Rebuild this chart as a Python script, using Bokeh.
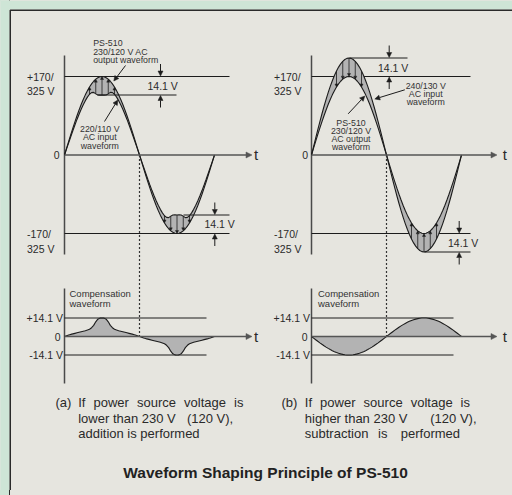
import numpy as np
from bokeh.plotting import figure
from bokeh.models import Range1d, Arrow, NormalHead, ColumnDataSource, GlobalInlineStyleSheet
from bokeh.core.properties import value
from bokeh.embed import file_html
from bokeh.resources import INLINE

# ---------------- data ----------------
NOMINAL_PEAK = 170.0            # +170/325 V output peak level
COMP_PEAK = 14.1                # compensation amplitude (V)
top_level_labels = ["+170/", "325 V"]
bot_level_labels = ["-170/", "325 V"]
comp_tick_labels = ["+14.1 V", "0", "-14.1 V"]
gap_label = "14.1 V"

phase = list(range(0, 365, 5))  # degrees 0..360
# compensation waveform (a), positive half, volts at 0,5,...,180 deg
comp_a_half = [0.0, 0.55, 1.1, 1.6, 2.0, 2.4, 2.8, 3.2, 3.6, 4.0, 4.4, 4.9, 5.5, 6.7, 8.5, 11.2, 13.2, 14.0,
               14.1, 14.0, 13.2, 11.2, 8.5, 6.7, 5.5, 4.9, 4.4, 4.0, 3.6, 3.2, 2.8, 2.4, 2.0, 1.6, 1.1, 0.55, 0.0]
comp_a = comp_a_half + [-v for v in comp_a_half[1:]]
hatch_phase_pos = [60, 75, 90, 105, 120]
hatch_phase_neg = [240, 255, 270, 285, 300]

# ---------------- layout / style ----------------
W, H = 512, 490
X0_A, X0_B = 64, 311            # phase 0 position of panels (a), (b)
HALF_PX = 75                    # pixels per half period
TOP_ZERO, TOP_PEAK_PX = 154.5, 78.5
COMP_ZERO, COMP_PEAK_PX = 336.0, 18.5
EXAG = (COMP_PEAK_PX / COMP_PEAK) / (TOP_PEAK_PX / NOMINAL_PEAK)   # drawing exaggeration of the gap

PANEL = "#e6e5df"
GREEN = "#cee5d6"
INK = "#1c1c1c"
TEXT = "#2a2a2a"
AXIS = "#4a4a4a"
FILL = "#b3b3b3"
FRAME = "#2a2a2a"
FONT = "Liberation Sans"


def deg_at(px, x0):
    return (px - x0) * 180.0 / HALF_PX


def xr(x0):
    return Range1d(start=deg_at(0, x0), end=deg_at(W, x0))


def yr(zero_px, peak_px, peak_v):
    ppu = peak_px / peak_v
    return Range1d(start=(zero_px - H) / ppu, end=zero_px / ppu)


p = figure(width=W, height=H, x_range=Range1d(0, W), y_range=Range1d(H, 0),
           output_backend="svg", toolbar_location=None, min_border=0,
           x_axis_type=None, y_axis_type=None, outline_line_color=None,
           background_fill_color=PANEL, border_fill_color=PANEL)
p.grid.visible = False
p.extra_x_ranges = {"pa": xr(X0_A), "pb": xr(X0_B)}
p.extra_y_ranges = {"vt": yr(TOP_ZERO, TOP_PEAK_PX, NOMINAL_PEAK),
                    "vc": yr(COMP_ZERO, COMP_PEAK_PX, COMP_PEAK)}
p.stylesheets = [GlobalInlineStyleSheet(css=(
    "html{background-color:%s;background-image:linear-gradient(to right,%s 9px,%s 9px,%s 10.5px,transparent 10.5px);"
    "background-repeat:no-repeat;}" % (PANEL, GREEN, FRAME, FRAME)))]

# outer frame
p.quad(left=0, right=9, bottom=H, top=0, fill_color=GREEN, line_color=None)
p.quad(left=0, right=W, bottom=9, top=0, fill_color=GREEN, line_color=None)
p.line([9.75, 9.75, W], [H, 9.75, 9.75], line_color=FRAME, line_width=1.5)


def txt(x, y, s, size, align="left", bold=False, color=TEXT):
    p.text(x=[x], y=[y], text=[s], text_font=value(FONT), text_font_size=value(f"{size}px"),
           text_align=align, text_baseline="middle", text_color=color,
           text_font_style="bold" if bold else "normal")


def arrow(x0, y0, x1, y1, size=5, lw=1.0, color=INK, xn="default", yn="default"):
    p.add_layout(Arrow(end=NormalHead(size=size, fill_color=color, line_color=color, line_width=0.5),
                       x_start=x0, y_start=y0, x_end=x1, y_end=y1, line_color=color, line_width=lw,
                       x_range_name=xn, y_range_name=yn))


ph = np.radians(np.array(phase, dtype=float))
base = NOMINAL_PEAK * np.sin(ph)
comp_a_arr = np.array(comp_a)
comp_b_arr = -COMP_PEAK * np.sin(ph)

# (a): output = clean sine (outer), input = output - compensation (inner)
outer_a = base
inner_a = base - comp_a_arr * EXAG
# (b): output = clean sine (inner), input = output - compensation (outer)
inner_b = base
outer_b = base - comp_b_arr * EXAG

panels = [
    dict(xn="pa", x0=X0_A, outer=outer_a, inner=inner_a, comp=comp_a_arr, zero_end=251.5,
         ref_end=229, comp_end=206, t_x=253.5),
    dict(xn="pb", x0=X0_B, outer=outer_b, inner=inner_b, comp=comp_b_arr, zero_end=496.5,
         ref_end=470, comp_end=453, t_x=502.3),
]

for P in panels:
    xn, x0 = P["xn"], P["x0"]
    # axes
    p.segment(x0=[0, 0], x1=[0, 0], y0=[55, 288], y1=[254, 383], x_range_name=xn,
              line_color=AXIS, line_width=1.5)
    arrow(0, 0, deg_at(P["zero_end"], x0), 0, size=6, lw=1.6, color="#555555", xn=xn, yn="vt")
    arrow(0, 0, deg_at(P["zero_end"], x0), 0, size=6, lw=1.6, color="#555555", xn=xn, yn="vc")
    # reference levels
    p.segment(x0=[0, 0], x1=[deg_at(P["ref_end"], x0)] * 2, y0=[NOMINAL_PEAK, -NOMINAL_PEAK],
              y1=[NOMINAL_PEAK, -NOMINAL_PEAK], x_range_name=xn, y_range_name="vt",
              line_color=INK, line_width=1)
    p.segment(x0=[0, 0], x1=[deg_at(P["comp_end"], x0)] * 2, y0=[COMP_PEAK, -COMP_PEAK],
              y1=[COMP_PEAK, -COMP_PEAK], x_range_name=xn, y_range_name="vc",
              line_color=INK, line_width=1)
    # waveforms
    p.varea(x=phase, y1=P["outer"], y2=P["inner"], x_range_name=xn, y_range_name="vt", fill_color=FILL)
    p.line(phase, P["outer"], x_range_name=xn, y_range_name="vt", line_color=INK, line_width=1.1)
    p.line(phase, P["inner"], x_range_name=xn, y_range_name="vt", line_color=INK, line_width=1.1)
    p.varea(x=phase, y1=P["comp"], y2=[0] * len(phase), x_range_name=xn, y_range_name="vc", fill_color=FILL)
    p.line(phase, P["comp"], x_range_name=xn, y_range_name="vc", line_color=INK, line_width=1.1)
    # dashed link at half period
    p.segment(x0=[180], x1=[180], y0=[TOP_ZERO], y1=[COMP_ZERO], x_range_name=xn,
              line_color="#333333", line_width=1.2, line_dash="2 2")
    # t labels
    txt(P["t_x"], 153.5, "t", 15)
    txt(P["t_x"], 335.5, "t", 15)


# hatch arrows
def hatch(xn, phases, y_from, y_to):
    idx = [phase.index(a) for a in phases]
    src = ColumnDataSource(dict(x=[phase[i] for i in idx], y0=[y_from[i] for i in idx],
                                y1=[y_to[i] for i in idx]))
    p.add_layout(Arrow(end=NormalHead(size=3, fill_color=INK, line_color=INK, line_width=0.5),
                       x_start="x", y_start="y0", x_end="x", y_end="y1", source=src,
                       line_color=INK, line_width=0.8, x_range_name=xn, y_range_name="vt"))


hatch("pa", hatch_phase_pos + hatch_phase_neg, inner_a, outer_a)
hatch("pb", hatch_phase_pos + hatch_phase_neg, outer_b, inner_b)

# gap level lines
inner_peak_a = NOMINAL_PEAK - COMP_PEAK * EXAG
outer_peak_b = NOMINAL_PEAK + COMP_PEAK * EXAG
p.segment(x0=[deg_at(97, X0_A), deg_at(183, X0_A)], x1=[deg_at(176, X0_A), deg_at(229, X0_A)],
          y0=[inner_peak_a, -inner_peak_a], y1=[inner_peak_a, -inner_peak_a],
          x_range_name="pa", y_range_name="vt", line_color=INK, line_width=1)
p.segment(x0=[deg_at(349, X0_B), deg_at(424, X0_B)], x1=[deg_at(407, X0_B), deg_at(470, X0_B)],
          y0=[outer_peak_b, -outer_peak_b], y1=[outer_peak_b, -outer_peak_b],
          x_range_name="pb", y_range_name="vt", line_color=INK, line_width=1)


# 14.1 V dimension arrows (page pixel units)
def vpx(v):
    return TOP_ZERO - v * TOP_PEAK_PX / NOMINAL_PEAK


def dim(x, y_hi, y_lo, lx, ly):
    arrow(x, y_hi - 12.5, x, y_hi - 0.5, size=5, lw=1)
    arrow(x, y_lo + 12.5, x, y_lo + 0.5, size=5, lw=1)
    txt(lx, ly, gap_label, 10.5)


dim(160, vpx(NOMINAL_PEAK), vpx(inner_peak_a), 147, 85)
dim(214.3, vpx(-inner_peak_a), vpx(-NOMINAL_PEAK), 204, 223.5)
dim(388.7, vpx(outer_peak_b), vpx(NOMINAL_PEAK), 377.5, 67.5)
dim(458.7, vpx(-NOMINAL_PEAK), vpx(-outer_peak_b), 447.5, 242)

# level labels
for lx, zx in [(26.5, 59), (273.5, 307.5)]:
    txt(lx, 76.5, top_level_labels[0], 10.5)
    txt(lx, 90.5, top_level_labels[1], 10.5)
    txt(zx, 154.5, "0", 10.5, align="right")
    txt(lx, 233, bot_level_labels[0], 10.5)
    txt(lx, 248, bot_level_labels[1], 10.5)

for rx, cx in [(62.5, 69), (309.5, 317.5)]:
    txt(rx, 317.5, comp_tick_labels[0], 10.5, align="right")
    txt(rx - 2.5, 336, comp_tick_labels[1], 10.5, align="right")
    txt(rx, 354.5, comp_tick_labels[2], 10.5, align="right")
    txt(cx, 293.3, "Compensation", 9.5, color="#333333")
    txt(cx, 303.3, "waveform", 9.5, color="#333333")

# callouts
CS = 8.8
for i, s in enumerate(["PS-510", "230/120 V AC", "output waveform"]):
    txt(92.7, 42.3 + i * 8.7, s, CS, color="#333333")
arrow(125, 65, 113.3, 80.5, size=5, lw=1)
for i, s in enumerate(["220/110 V", "AC input", "waveform"]):
    txt(99.3, 128.3 + i * 8.4, s, CS, align="center", color="#333333")
arrow(104, 121, 117.3, 99.5, size=5, lw=1)
for i, s in enumerate(["240/130 V", "AC input", "waveform"]):
    txt(425.2, 85.3 + i * 8.2, s, CS, align="center", color="#333333")
arrow(404.3, 89.3, 374.3, 98.5, size=5, lw=1)
for i, s in enumerate(["PS-510", "230/120 V", "AC output", "waveform"]):
    txt(350.5, 122.7 + i * 7.9, s, CS, align="center", color="#333333")
arrow(347.7, 113.3, 364.3, 95.5, size=5, lw=1)

# captions
CAP = 13
for word, x in [("(a)", 55), ("If", 77.7), ("power", 93), ("source", 136.5), ("voltage", 183.6)]:
    txt(x, 401.7, word, CAP)
txt(243, 401.7, "is", CAP, align="right")
txt(77.7, 417.7, "lower than 230 V", CAP)
txt(232.7, 417.7, "(120 V),", CAP, align="right")
txt(77.7, 433.3, "addition is performed", CAP)

for word, x in [("(b)", 281), ("If", 304.3), ("power", 319.6), ("source", 363.1), ("voltage", 410.2)]:
    txt(x, 401.7, word, CAP)
txt(469.5, 401.7, "is", CAP, align="right")
txt(304.3, 417.7, "higher than 230 V", CAP)
txt(476, 417.7, "(120 V),", CAP, align="right")
txt(304.3, 433.3, "subtraction", CAP)
txt(377.5, 433.3, "is", CAP)
txt(459.5, 433.3, "performed", CAP, align="right")

txt(265, 471.7, "Waveform Shaping Principle of PS-510", 15.5, align="center", bold=True, color="#222222")

open("out.html", "w").write(file_html(p, INLINE))
